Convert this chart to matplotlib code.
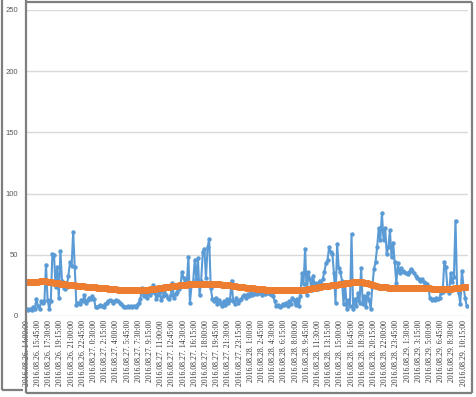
import matplotlib
matplotlib.use("Agg")
import matplotlib.pyplot as plt
from matplotlib.lines import Line2D

# blue series (15 min readings)
flow = [6, 5, 6, 5, 7, 6, 14, 8, 6, 12, 11, 12, 42, 13, 6,
        12, 51, 50, 24, 40, 15, 53, 29, 23, 22, 24, 33, 44, 41, 69, 40, 9,
        11, 10, 13, 12, 17, 11, 13, 15, 14, 16, 14, 7,
        7, 8, 9, 8, 7, 10, 11, 12, 13, 12, 11, 12, 13, 12, 11, 10,
        8, 7, 7, 8, 7, 8, 7, 8, 7, 9, 11, 14, 23, 16,
        18, 15, 19, 17, 20, 25, 19, 14, 17, 20, 13, 16, 20, 17, 15,
        14, 17, 27, 15, 18, 20, 22, 24,
        36, 31, 29, 26, 48, 11, 25, 28, 46, 30,
        47, 17, 29, 52, 55, 31, 56, 63, 23,
        14, 12, 15, 10, 13, 11,
        8, 12, 9, 14, 11, 13, 29, 12, 10, 15, 11, 13,
        14, 16, 17, 15, 18, 16, 19, 17, 18,
        20, 18, 21, 19, 17, 20, 18, 19, 21, 18, 17, 16,
        12, 8, 9, 7, 8, 10, 9, 11, 8,
        12, 10, 15, 13, 9, 14, 8,
        16, 35, 26, 55, 17, 36, 30, 21, 33,
        24, 27, 22, 29, 26, 30,
        36, 43, 46, 56, 52, 51, 35, 11, 59, 39, 36, 29,
        10, 27, 6, 13, 8, 67, 6, 14, 8, 19, 11, 39, 10, 16, 7, 19, 13, 6,
        24, 38, 44, 56, 72, 62, 84, 62, 72, 51, 56, 70, 48, 60, 44, 27, 43, 35,
        39, 37, 36, 35, 34, 36, 38, 37, 35, 33,
        31, 30, 29, 30, 28, 27, 26, 24,
        15, 13, 14, 13, 15, 14, 15,
        19, 20, 44, 40, 21, 19, 35, 28, 32, 78, 22, 19, 10, 37, 24, 15, 8]

# orange series (smoothed)
trend = [27.5, 27.5, 27.6, 27.7, 27.8, 27.9, 28.0, 28.1, 28.3, 28.4, 28.5,
         28.4, 28.2, 28.0, 27.8, 27.6, 27.4, 27.2, 27.0, 26.8, 26.6,
         26.4, 26.2, 26.0, 25.9, 25.7, 25.6, 25.4, 25.3, 25.1, 25.0, 24.8, 24.7, 24.5,
         24.4, 24.3, 24.2, 24.0, 23.9, 23.8, 23.7, 23.6, 23.4, 23.3, 23.2, 23.0,
         22.9, 22.8, 22.7, 22.6, 22.5, 22.3, 22.2, 22.1, 22.0, 21.9, 21.8, 21.6, 21.5,
         21.5, 21.4, 21.4, 21.3, 21.3, 21.2, 21.2, 21.1, 21.1, 21.0, 21.0, 21.0, 21.0,
         21.1, 21.2, 21.3, 21.4, 21.6, 21.7, 21.8, 22.0, 22.1, 22.3, 22.5,
         22.7, 22.9, 23.2, 23.4, 23.6, 23.8, 24.0, 24.3, 24.5,
         24.6, 24.8, 24.9, 25.0, 25.2, 25.3, 25.5, 25.6, 25.7, 25.9, 26.0,
         26.0, 26.1, 26.1, 26.2, 26.2, 26.3, 26.3, 26.4, 26.4, 26.5, 26.5, 26.5,
         26.4, 26.4, 26.3, 26.2, 26.1, 25.9, 25.8, 25.7, 25.5, 25.4, 25.3, 25.1, 25.0,
         24.8, 24.6, 24.4, 24.2, 24.0, 23.8, 23.6, 23.5, 23.3, 23.2, 23.0,
         22.9, 22.8, 22.7, 22.5, 22.4, 22.3, 22.2, 22.0, 21.9, 21.8, 21.6, 21.5,
         21.4, 21.4, 21.3, 21.3, 21.2, 21.2, 21.1, 21.1, 21.0, 21.0,
         21.0, 21.0, 21.0, 21.0, 21.0, 21.0, 21.0, 21.0, 21.0, 21.0,
         21.1, 21.2, 21.4, 21.6, 21.8, 22.0, 22.3, 22.5, 22.7, 23.0, 23.2, 23.5, 23.7, 24.0,
         24.2, 24.3, 24.5, 24.7, 24.8, 25.0, 25.2, 25.3, 25.5, 25.7, 25.8, 26.0,
         26.2, 26.4, 26.6, 26.8, 27.0, 27.2, 27.4, 27.6, 27.8, 27.9, 28.0,
         27.9, 27.7, 27.5, 27.2, 26.9, 26.6, 26.3, 26.0,
         25.6, 25.2, 24.8, 24.4, 24.0, 23.5,
         23.4, 23.4, 23.3, 23.3, 23.2, 23.2, 23.1, 23.1, 23.0,
         23.0, 23.0, 23.0, 22.9, 22.9, 22.9, 22.9, 22.8, 22.8, 22.8,
         22.8, 22.7, 22.7, 22.7, 22.7, 22.6, 22.6, 22.6, 22.5, 22.5,
         22.5, 22.5, 22.4, 22.4, 22.3, 22.3, 22.2, 22.2, 22.1, 22.1, 22.0, 22.0, 22.0,
         22.1, 22.2, 22.3, 22.5, 22.6, 22.8, 23.0, 23.2, 23.4, 23.6, 23.8, 24.0]

time_labels = [
    "2016.08.26. 14:00:00", "2016.08.26. 15:45:00", "2016.08.26. 17:30:00",
    "2016.08.26. 19:15:00", "2016.08.26. 21:00:00", "2016.08.26. 22:45:00",
    "2016.08.27. 0:30:00", "2016.08.27. 2:15:00", "2016.08.27. 4:00:00",
    "2016.08.27. 5:45:00", "2016.08.27. 7:30:00", "2016.08.27. 9:15:00",
    "2016.08.27. 11:00:00", "2016.08.27. 12:45:00", "2016.08.27. 14:30:00",
    "2016.08.27. 16:15:00", "2016.08.27. 18:00:00", "2016.08.27. 19:45:00",
    "2016.08.27. 21:30:00", "2016.08.27. 23:15:00", "2016.08.28. 1:00:00",
    "2016.08.28. 2:45:00", "2016.08.28. 4:30:00", "2016.08.28. 6:15:00",
    "2016.08.28. 8:00:00", "2016.08.28. 9:45:00", "2016.08.28. 11:30:00",
    "2016.08.28. 13:15:00", "2016.08.28. 15:00:00", "2016.08.28. 16:45:00",
    "2016.08.28. 18:30:00", "2016.08.28. 20:15:00", "2016.08.28. 22:00:00",
    "2016.08.28. 23:45:00", "2016.08.29. 1:30:00", "2016.08.29. 3:15:00",
    "2016.08.29. 5:00:00", "2016.08.29. 6:45:00", "2016.08.29. 8:30:00",
    "2016.08.29. 10:15:00"]
label_step = 7
y_ticks = [0, 50, 100, 150, 200, 250]

W, H = 476, 397
fig = plt.figure(figsize=(W / 100, H / 100), dpi=100)
fig.patch.set_facecolor('white')

n = max(len(flow), len(trend))
ax = fig.add_axes([26 / W, 1 - 316 / H, (467.5 - 26) / W, (316 - 10) / H])
ax.plot(range(len(flow)), flow, color='#5B9BD5', lw=1.5, marker='o', ms=3.2,
        markeredgewidth=0, zorder=3)
ax.plot(range(len(trend)), trend, color='#ED7D31', lw=2.8, marker='o', ms=5,
        markeredgewidth=0, zorder=4)

ax.set_xlim(-0.5, n - 0.5)
ax.set_ylim(0, 250)
ax.set_yticks(y_ticks)
ax.set_yticklabels([str(v) for v in y_ticks], fontsize=5.5, color='#595959',
                   family='Liberation Sans')
ax.yaxis.grid(True, color='#d9d9d9', lw=1)
ax.set_axisbelow(True)
ax.set_xticks(range(0, label_step * len(time_labels), label_step))
ax.set_xticklabels(time_labels, rotation=90, fontsize=5.6, color='#333333',
                   family='Liberation Serif', va='top', ha='center')
ax.tick_params(axis='x', length=0, pad=3)
ax.tick_params(axis='y', length=0, pad=5.5)
for s in ax.spines.values():
    s.set_visible(False)

# frame lines from the screenshot
def px_line(x0, y0, x1, y1):
    fig.add_artist(Line2D([x0 / W, x1 / W], [1 - y0 / H, 1 - y1 / H],
                          color='#7f7f7f', lw=1.6, transform=fig.transFigure,
                          solid_capstyle='butt'))

px_line(2, 0, 2, 390)
px_line(2, 390, 23, 390)
px_line(25.5, 0, 25.5, 393)
px_line(25.5, 1.5, 472, 1.5)
px_line(472, 1.5, 472, 393)
px_line(25.5, 393, 472, 393)

fig.savefig('out.png', dpi=100)
